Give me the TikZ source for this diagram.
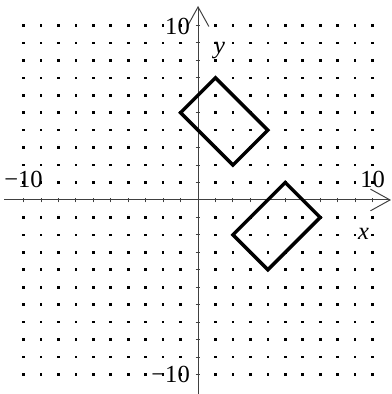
\documentclass[tikz,border=0pt]{standalone}
\usepackage{fontspec}
\setmainfont{Liberation Serif}
\usetikzlibrary{arrows.meta}

\begin{document}
\begin{tikzpicture}[
  x=0.5cm, y=0.5cm,
  axis/.style={line width=0.8pt, black!75, -{Straight Barb[length=5.6mm, width=6.2mm, line width=0.8pt]}},
  tickmark/.style={line width=0.8pt, black!75},
  gdot/.style={fill=black},
  rectline/.style={line width=2.8pt, line join=miter},
  lbl/.style={font=\fontsize{20}{24}\selectfont, inner sep=0pt, anchor=base}
]
\useasboundingbox (-11.35,-11.12) rectangle (11.06,11.46);
% dot grid
\foreach \i in {-10,...,-1,1,2,...,10}
  \foreach \j in {-10,...,-1,1,2,...,10}
    \fill[gdot] (\i-0.075,\j-0.075) rectangle (\i+0.075,\j+0.075);
% axes
\draw[axis] (-11.12,0) -- (11.06,0);
\draw[axis] (0,-11.12) -- (0,11.12);
\foreach \k in {-10,...,-1,1,2,...,10} {
  \draw[tickmark] (\k,-0.14) -- (\k,0.14);
  \draw[tickmark] (-0.14,\k) -- (0.14,\k);
}
% labels
\node[lbl, anchor=base east] (ytop) at (-0.46,9.5) {10};
\node[lbl, anchor=base east] (ybot) at (-0.46,-10.47) {−10};
\node[lbl] (xleft) at (-10,0.69) {−10};
\node[lbl] (xright) at (10,0.69) {10};
\node[lbl] (ylab) at (1.24,8.42) {\textit{y}};
\node[lbl] (xlab) at (9.48,-2.25) {\textit{x}};
% the two rectangles
\draw[rectline] (1,7) -- (4,4) -- (2,2) -- (-1,5) -- cycle;
\draw[rectline] (5,1) -- (7,-1) -- (4,-4) -- (2,-2) -- cycle;
\end{tikzpicture}
\end{document}
